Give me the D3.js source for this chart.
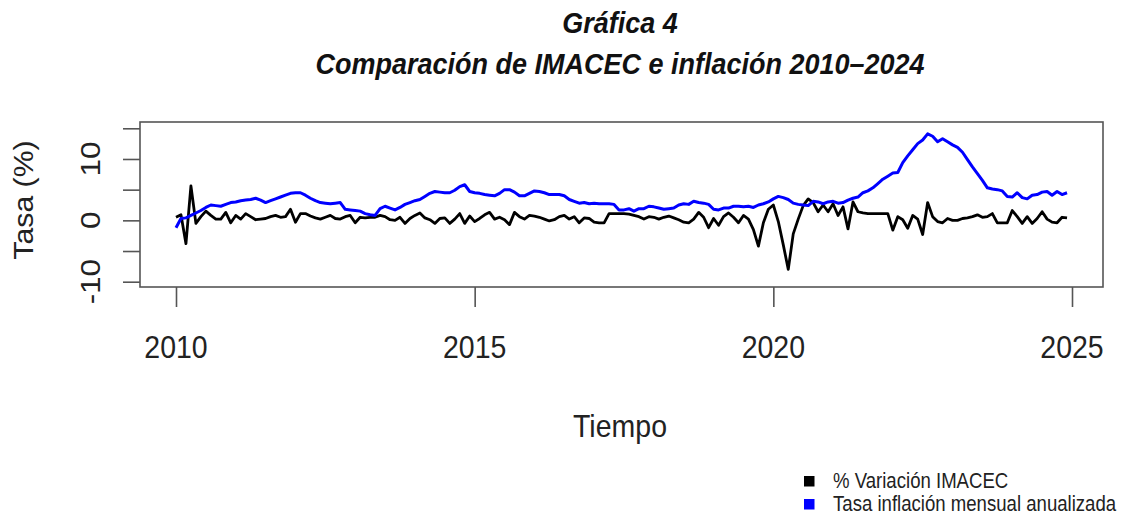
<!DOCTYPE html>
<html>
<head>
<meta charset="utf-8">
<script src="https://cdn.jsdelivr.net/npm/d3@7"></script>
<style>
  body { margin: 0; background: #fff; }
  svg { display: block; font-family: "Liberation Sans", Arial, sans-serif; }
</style>
</head>
<body>
<div id="chart"></div>
<script>
// --- Data (monthly, Jan 2010 - Dec 2024) ---
const startYear = 2010;

// % Variación IMACEC
const imacec = [
  0.5, 0.9, -3.8, 5.6, -0.5, 0.6, 1.5, 0.8, 0.2, 0.2, 1.3, -0.4,   // 2010
  0.8, 0.2, 1.1, 0.6, 0.1, 0.2, 0.3, 0.6, 0.8, 0.5, 0.6, 1.8,      // 2011
  -0.3, 1.1, 1.1, 0.7, 0.4, 0.2, 0.5, 0.8, 0.3, 0.2, 0.6, 0.8,     // 2012
  -0.4, 0.5, 0.4, 0.5, 0.5, 0.8, 0.6, 0.1, 0.0, 0.5, -0.5, 0.3,    // 2013
  0.8, 1.2, 0.4, 0.1, -0.5, 0.3, 0.4, -0.5, 0.2, 1.1, -0.5, 0.7,   // 2014
  -0.2, 0.3, 0.9, 1.3, 0.2, 0.5, 0.1, -0.7, 1.3, 0.6, 0.2, 0.8,    // 2015
  0.7, 0.5, 0.2, -0.1, 0.1, 0.6, 0.8, 0.2, 0.6, -0.4, 0.4, 0.3,    // 2016
  -0.3, -0.4, -0.4, 1.1, 1.1, 1.1, 1.1, 1.0, 0.8, 0.6, 0.2, 0.6,   // 2017
  0.5, 0.2, 0.5, 0.7, 0.4, 0.1, -0.3, -0.4, 0.2, 1.3, 0.5, -1.2,   // 2018
  0.3, -0.8, 0.6, 1.2, 0.5, -0.4, 0.8, 0.2, -1.5, -4.2, -0.4, 1.8, // 2019
  2.5, -0.2, -4.0, -8.0, -2.2, 0.2, 2.4, 3.5, 2.9, 1.4, 2.5, 1.4,  // 2020
  2.7, 0.8, 2.2, -1.4, 3.0, 1.4, 1.2, 1.1, 1.1, 1.1, 1.1, 1.1,     // 2021
  -1.6, 0.6, 0.1, -1.3, 0.8, 0.2, -2.3, 2.9, 0.6, -0.2, -0.4, 0.3, // 2022
  0.0, 0.0, 0.3, 0.4, 0.6, 0.9, 0.5, 0.6, 1.1, -0.4, -0.4, -0.4,   // 2023
  1.6, 0.6, -0.5, 0.6, -0.5, 0.3, 1.4, 0.2, -0.3, -0.4, 0.5, 0.4   // 2024
];

// Tasa inflación mensual anualizada
const inflacion = [
  -1.2, 0.3, 0.4, 0.8, 1.2, 1.6, 2.1, 2.5, 2.4, 2.3, 2.6, 2.9,     // 2010
  3.0, 3.2, 3.3, 3.4, 3.6, 3.3, 2.9, 3.2, 3.5, 3.8, 4.1, 4.4,      // 2011
  4.5, 4.5, 4.1, 3.6, 3.2, 2.9, 2.8, 2.7, 2.8, 2.9, 1.8, 1.7,      // 2012
  1.6, 1.5, 1.1, 0.9, 0.8, 1.9, 2.3, 2.0, 1.7, 2.1, 2.6, 2.9,      // 2013
  3.2, 3.4, 3.9, 4.4, 4.7, 4.6, 4.5, 4.5, 4.9, 5.5, 5.8, 4.7,      // 2014
  4.5, 4.4, 4.2, 4.1, 4.0, 4.4, 5.0, 5.0, 4.6, 4.0, 4.0, 4.4,      // 2015
  4.8, 4.7, 4.5, 4.2, 4.2, 4.2, 4.0, 3.4, 3.1, 2.8, 2.9, 2.7,      // 2016
  2.8, 2.7, 2.7, 2.7, 2.6, 1.7, 1.7, 1.9, 1.5, 1.9, 1.9, 2.3,      // 2017
  2.2, 2.0, 1.8, 1.9, 2.0, 2.5, 2.7, 2.6, 3.1, 2.9, 2.8, 2.6,      // 2018
  1.8, 1.7, 2.0, 2.0, 2.3, 2.3, 2.2, 2.3, 2.1, 2.5, 2.7, 3.0,      // 2019
  3.5, 3.9, 3.7, 3.4, 2.8, 2.6, 2.5, 2.4, 3.1, 3.0, 2.7, 3.0,      // 2020
  3.1, 2.8, 2.9, 3.3, 3.6, 3.8, 4.5, 4.8, 5.3, 6.0, 6.7, 7.2,      // 2021
  7.7, 7.8, 9.4, 10.5, 11.5, 12.5, 13.1, 14.1, 13.7, 12.8, 13.3, 12.8, // 2022
  12.3, 11.9, 11.1, 9.9, 8.7, 7.6, 6.5, 5.3, 5.1, 5.0, 4.8, 3.9,   // 2023
  3.8, 4.5, 3.7, 3.5, 4.1, 4.2, 4.6, 4.7, 4.1, 4.7, 4.2, 4.5       // 2024
];

const xTicks = [2010, 2015, 2020, 2025];
const yTicks = [-10, -5, 0, 5, 10, 15];
const yTickLabels = [-10, 0, 10];

const titleLines = ['Gráfica 4', 'Comparación de IMACEC e inflación 2010–2024'];
const xTitle = 'Tiempo';
const yTitle = 'Tasa (%)';
const legendItems = [
  { label: '% Variación IMACEC', color: '#000000' },
  { label: 'Tasa inflación mensual anualizada', color: '#0000ff' }
];

// --- Layout ---
const width = 1123;
const height = 531;
const box = { left: 140, right: 1103, top: 122, bottom: 287 };
const stretch = 1.12; // text in the source is taller than wide

const svg = d3.select('#chart')
  .append('svg')
  .attr('width', width)
  .attr('height', height);

const x = d3.scaleLinear().domain([2010, 2025]).range([176, 1072]);
const y = d3.scaleLinear().domain([-10, 15]).range([281.7, 128.3]);

const t = i => startYear + i / 12;

// Title
svg.selectAll('.title')
  .data(titleLines)
  .enter()
  .append('text')
  .attr('class', 'title')
  .attr('text-anchor', 'middle')
  .attr('transform', (d, i) => `translate(620,${i === 0 ? 33 : 74}) scale(1,${stretch})`)
  .style('font-size', '27px')
  .style('font-weight', 'bold')
  .style('font-style', 'italic')
  .style('fill', '#111')
  .text(d => d);

// Lines
const line = d3.line()
  .x((d, i) => x(t(i)))
  .y(d => y(d));

svg.append('path')
  .datum(imacec)
  .attr('fill', 'none')
  .attr('stroke', '#000')
  .attr('stroke-width', 2.8)
  .attr('stroke-linejoin', 'round')
  .attr('d', line);

svg.append('path')
  .datum(inflacion)
  .attr('fill', 'none')
  .attr('stroke', '#0000ff')
  .attr('stroke-width', 3)
  .attr('stroke-linejoin', 'round')
  .attr('d', line);

// Box
svg.append('rect')
  .attr('x', box.left)
  .attr('y', box.top)
  .attr('width', box.right - box.left)
  .attr('height', box.bottom - box.top)
  .attr('fill', 'none')
  .attr('stroke', '#555')
  .attr('stroke-width', 1.6);

// Axes (ticks only, labels drawn separately)
const xAxis = svg.append('g')
  .attr('transform', `translate(0,${box.bottom})`)
  .call(d3.axisBottom(x).tickValues(xTicks).tickSize(20).tickFormat(''));
xAxis.select('.domain').remove();
xAxis.selectAll('line').attr('stroke', '#555').attr('stroke-width', 1.6);

const yAxis = svg.append('g')
  .attr('transform', `translate(${box.left},0)`)
  .call(d3.axisLeft(y).tickValues(yTicks).tickSize(17).tickFormat(''));
yAxis.select('.domain').remove();
yAxis.selectAll('line').attr('stroke', '#555').attr('stroke-width', 1.6);

svg.selectAll('.xlab')
  .data(xTicks)
  .enter()
  .append('text')
  .attr('class', 'xlab')
  .attr('text-anchor', 'middle')
  .attr('transform', d => `translate(${x(d)},358) scale(1,${stretch})`)
  .style('font-size', '28.5px')
  .style('fill', '#222')
  .text(d => d);

svg.selectAll('.ylab')
  .data(yTickLabels)
  .enter()
  .append('text')
  .attr('class', 'ylab')
  .attr('text-anchor', 'middle')
  .attr('transform', d => `translate(100,${y(d)}) rotate(-90) scale(${stretch},1)`)
  .style('font-size', '28px')
  .style('fill', '#222')
  .text(d => d);

// Axis titles
svg.append('text')
  .attr('text-anchor', 'middle')
  .attr('transform', `translate(620,437) scale(1,${stretch})`)
  .style('font-size', '28.5px')
  .style('fill', '#222')
  .text(xTitle);

svg.append('text')
  .attr('text-anchor', 'middle')
  .attr('transform', `translate(33,200) rotate(-90) scale(${stretch},1)`)
  .style('font-size', '27px')
  .style('fill', '#222')
  .text(yTitle);

// Legend
const legend = svg.append('g')
  .selectAll('g')
  .data(legendItems)
  .enter()
  .append('g')
  .attr('transform', (d, i) => `translate(804,${476 + i * 23})`);

legend.append('rect')
  .attr('width', 10.5)
  .attr('height', 10.5)
  .attr('fill', d => d.color);

legend.append('text')
  .attr('transform', 'translate(29,11.5) scale(1,1.2)')
  .style('font-size', '18.6px')
  .style('fill', '#222')
  .text(d => d.label);
</script>
</body>
</html>
